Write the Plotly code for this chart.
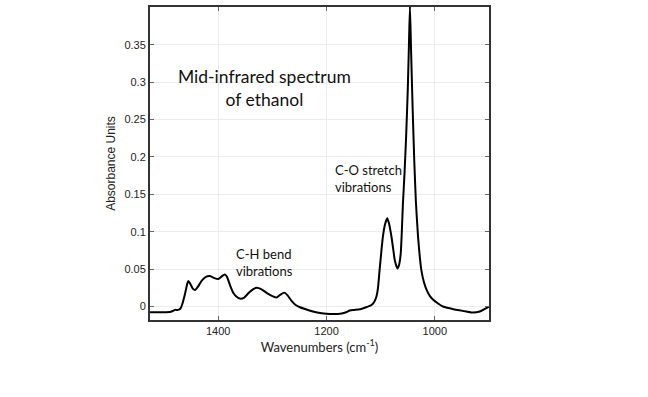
import plotly.graph_objects as go

wavenumber = [1526, 1500, 1490, 1484, 1480, 1474, 1470, 1466, 1461, 1457, 1455, 1452, 1447, 1443,
              1438, 1430, 1422, 1415, 1407, 1400, 1394, 1388, 1384, 1378, 1372, 1366, 1360, 1352,
              1344, 1336, 1329, 1320, 1310, 1300, 1292, 1285, 1278, 1272, 1265, 1257, 1249, 1237,
              1225, 1212, 1200, 1188, 1175, 1165, 1157, 1148, 1138, 1127, 1117, 1112, 1108, 1105,
              1102, 1099, 1096, 1092, 1088, 1085, 1080, 1076, 1074, 1071, 1069, 1066, 1063, 1061,
              1059, 1056, 1053, 1050, 1048, 1046, 1044, 1041, 1038, 1035, 1031, 1028, 1025, 1020,
              1015, 1009, 1003, 994, 985, 975, 966, 955, 942, 929, 917, 910, 905, 900]
absorbance = [-0.0075, -0.0075, -0.0074, -0.006, -0.0045, -0.0045, -0.003, 0.004, 0.018, 0.031, 0.034,
              0.031, 0.024, 0.022, 0.026, 0.035, 0.040, 0.0407, 0.038, 0.0367, 0.040, 0.043, 0.040,
              0.028, 0.018, 0.013, 0.0106, 0.012, 0.018, 0.023, 0.025, 0.023, 0.018, 0.014, 0.012,
              0.016, 0.0186, 0.015, 0.008, 0.002, -0.001, -0.004, -0.0066, -0.0085, -0.0097, -0.010,
              -0.0097, -0.008, -0.0053, -0.0045, -0.0035, -0.001, 0.002, 0.006, 0.013, 0.025, 0.049,
              0.072, 0.093, 0.110, 0.118, 0.112, 0.093, 0.072, 0.062, 0.054, 0.051, 0.056, 0.071,
              0.100, 0.137, 0.178, 0.228, 0.29, 0.345, 0.402, 0.345, 0.265, 0.195, 0.14, 0.093,
              0.068, 0.049, 0.032, 0.022, 0.014, 0.009, 0.004, 0.0, -0.002, -0.0035, -0.005,
              -0.0066, -0.008, -0.0066, -0.004, -0.002, 0.0]

x_ticks = [1400, 1200, 1000]
y_ticks = [0, 0.05, 0.1, 0.15, 0.2, 0.25, 0.3, 0.35]
y_tick_text = ["0", "0.05", "0.1", "0.15", "0.2", "0.25", "0.3", "0.35"]

fig = go.Figure()
fig.add_trace(go.Scatter(x=wavenumber, y=absorbance, mode="lines",
                         line=dict(color="black", width=2, shape="spline", smoothing=0.5),
                         showlegend=False))

axis_common = dict(showline=True, linecolor="#333", linewidth=2, mirror="ticks",
                   ticks="inside", ticklen=4, tickcolor="#666",
                   showgrid=True, gridcolor="#ececec", gridwidth=1, zeroline=False)

fig.update_xaxes(range=[1526, 900], tickvals=x_ticks,
                 tickfont=dict(family="Liberation Sans", size=11, color="#222"),
                 title=dict(text="Wavenumbers (cm<sup>-1</sup>)",
                            font=dict(family="Lato", size=13, color="#222"), standoff=4),
                 **axis_common)
fig.update_yaxes(range=[-0.018, 0.4005], tickvals=y_ticks, ticktext=y_tick_text,
                 tickfont=dict(family="Liberation Sans", size=11, color="#222"),
                 title=dict(text="Absorbance Units",
                            font=dict(family="Liberation Sans", size=12, color="#222"), standoff=6),
                 **axis_common)

fig.add_annotation(xref="x", yref="y", x=1314, y=0.292, text="Mid-infrared spectrum<br>of ethanol",
                   showarrow=False, xanchor="center", yanchor="middle", align="center",
                   font=dict(family="Lato", size=17.5, color="#111"))
fig.add_annotation(xref="x", yref="y", x=1370, y=0.059, text="C-H bend<br>vibrations",
                   showarrow=False, xanchor="left", yanchor="middle", align="left",
                   font=dict(family="Lato", size=13, color="#111"))
fig.add_annotation(xref="x", yref="y", x=1188, y=0.1715, text="C-O stretch<br>vibrations",
                   showarrow=False, xanchor="left", yanchor="middle", align="left",
                   font=dict(family="Lato", size=13, color="#111"))

fig.update_layout(width=648, height=397, margin=dict(l=150, r=159, t=5, b=77),
                  plot_bgcolor="white", paper_bgcolor="white")

fig.write_html("out.html", config={"displayModeBar": False},
               post_script="document.body.style.margin='0';")
